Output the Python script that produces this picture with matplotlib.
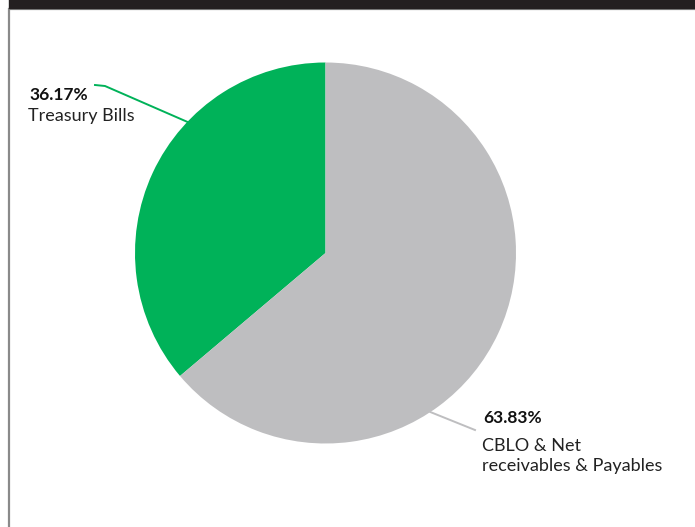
import numpy as np
import matplotlib.pyplot as plt
from matplotlib.patches import Rectangle

labels = ['Treasury Bills', 'CBLO & Net\nreceivables & Payables']
shares = [36.17, 63.83]
colors = ['#00B259', '#BEBEC0']

W, H = 695, 527
fig = plt.figure(figsize=(W / 100, H / 100), dpi=100)
ax = fig.add_axes([0, 0, 1, 1])

# header bar and frame
ax.add_patch(Rectangle((8.5, -10), W, H - 8.5 + 10, fill=False, edgecolor='#8a8a8a', lw=1.6))
ax.add_patch(Rectangle((9, H - 8), W, 10, color='#231f20', zorder=3))

cx, cy, r = 325.5, 527 - 253, 190.5
ax.pie(shares, colors=colors, startangle=90, counterclock=True,
       center=(cx, cy), radius=r, frame=True,
       wedgeprops=dict(linewidth=0))
ax.set_xlim(0, W)
ax.set_ylim(0, H)
ax.set_aspect('equal')
ax.axis('off')

def edge(angle_deg):
    a = np.deg2rad(angle_deg)
    return cx + r * np.cos(a), cy + r * np.sin(a)

# leader lines
ex, ey = edge(136.5)
ax.plot([95, 105, ex], [H - 85, H - 86, ey], color=colors[0], lw=1.4)
ex, ey = edge(303.4)
ax.plot([ex, 475], [ey, H - 430], color=colors[1], lw=1.4)

font = 'Lato'

def put_label(x, y_pct, y_first, share, label):
    ax.text(x + 1, H - y_pct, f'{share:.2f}%', fontsize=12.5, fontweight='bold',
            family=font, va='baseline', color='#111111')
    for i, line in enumerate(label.split('\n')):
        ax.text(x, H - (y_first + 20.5 * i), line, fontsize=13, family=font,
                va='baseline', color='#222222')

put_label(28, 100, 121, shares[0], labels[0])
put_label(482, 423, 451, shares[1], labels[1])

fig.savefig('out.png', dpi=100)
